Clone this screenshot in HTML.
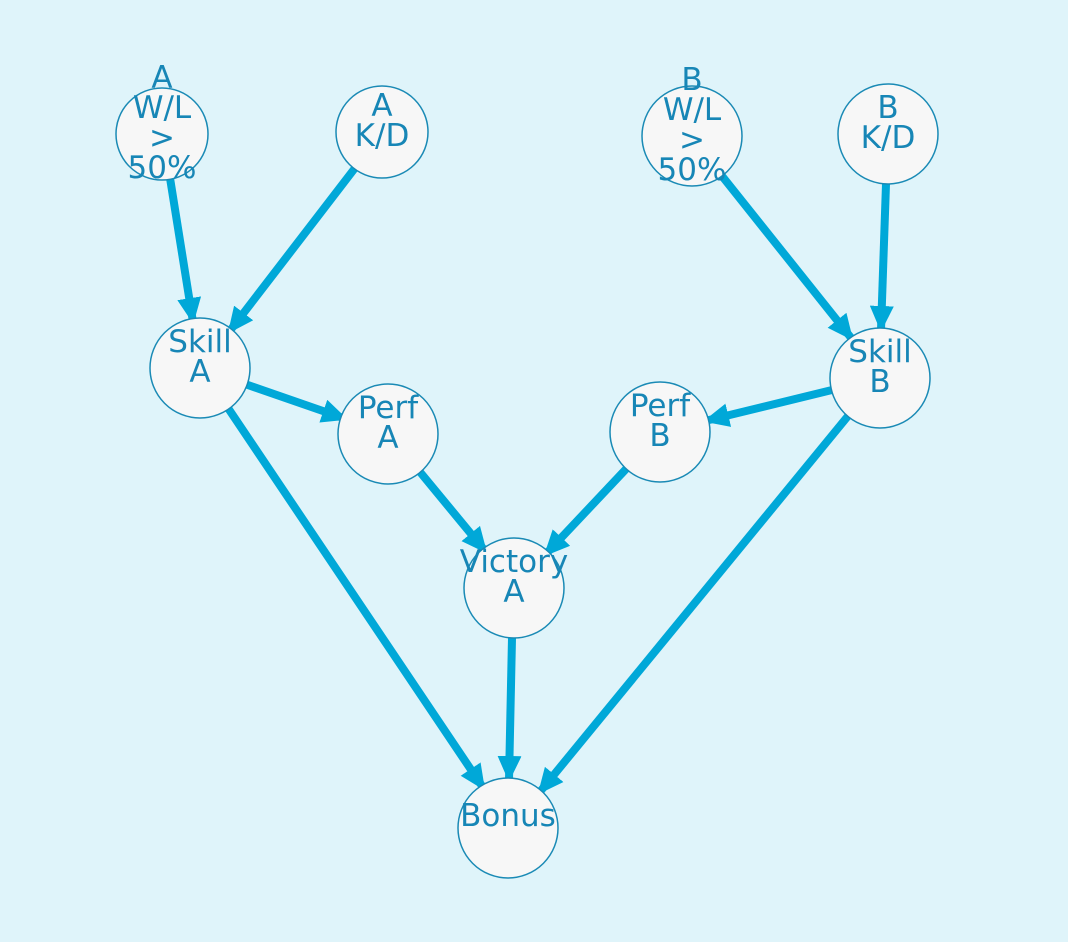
<!DOCTYPE html>
<html><head><style>html,body{margin:0;padding:0;background:#dff4fa;overflow:hidden;}</style></head>
<body>
<svg width="1068" height="942" viewBox="0 0 1068 942" xmlns="http://www.w3.org/2000/svg" style="display:block">
<defs>
<marker id="ah" markerUnits="userSpaceOnUse" markerWidth="26" markerHeight="24" refX="24" refY="12" orient="auto">
<path d="M0,0 L26,12 L0,24 Z" fill="#00a8d8"/>
</marker>
</defs>
<rect width="1068" height="942" fill="#dff4fa"/>
<g stroke="#00a8d8" stroke-width="8" fill="none" marker-end="url(#ah)">
<line x1="170" y1="178" x2="193" y2="322"/>
<line x1="355" y1="168" x2="229" y2="332"/>
<line x1="245" y1="384" x2="346" y2="419"/>
<line x1="420" y1="472" x2="486" y2="552"/>
<line x1="627" y1="468" x2="545" y2="555"/>
<line x1="832" y1="390" x2="705" y2="421"/>
<line x1="722" y1="176" x2="852" y2="339"/>
<line x1="886" y1="184" x2="881" y2="330"/>
<line x1="228" y1="408" x2="484" y2="789"/>
<line x1="512" y1="638" x2="509" y2="780"/>
<line x1="848" y1="416" x2="539" y2="793"/>
</g>
<g fill="#f7f7f7" stroke="#1a8ab5" stroke-width="1.5">
<circle cx="162" cy="134" r="46"/>
<circle cx="382" cy="132" r="46"/>
<circle cx="692" cy="136" r="50"/>
<circle cx="888" cy="134" r="50"/>
<circle cx="200" cy="368" r="50"/>
<circle cx="388" cy="434" r="50"/>
<circle cx="880" cy="378" r="50"/>
<circle cx="660" cy="432" r="50"/>
<circle cx="514" cy="588" r="50"/>
<circle cx="508" cy="828" r="50"/>
</g>
<g fill="#1786b6" font-family="DejaVu Sans, Liberation Sans, sans-serif" font-size="31" text-anchor="middle" dominant-baseline="central">
<text x="162" y="78">A</text><text x="162" y="108">W/L</text><text x="162" y="138">&gt;</text><text x="162" y="168">50%</text>
<text x="382" y="106">A</text><text x="382" y="136">K/D</text>
<text x="692" y="80">B</text><text x="692" y="110">W/L</text><text x="692" y="140">&gt;</text><text x="692" y="170">50%</text>
<text x="888" y="108">B</text><text x="888" y="138">K/D</text>
<text x="200" y="342">Skill</text><text x="200" y="372">A</text>
<text x="388" y="408">Perf</text><text x="388" y="438">A</text>
<text x="880" y="352">Skill</text><text x="880" y="382">B</text>
<text x="660" y="406">Perf</text><text x="660" y="436">B</text>
<text x="514" y="562">Victory</text><text x="514" y="592">A</text>
<text x="508" y="816">Bonus</text>
</g>
</svg>
</body></html>
